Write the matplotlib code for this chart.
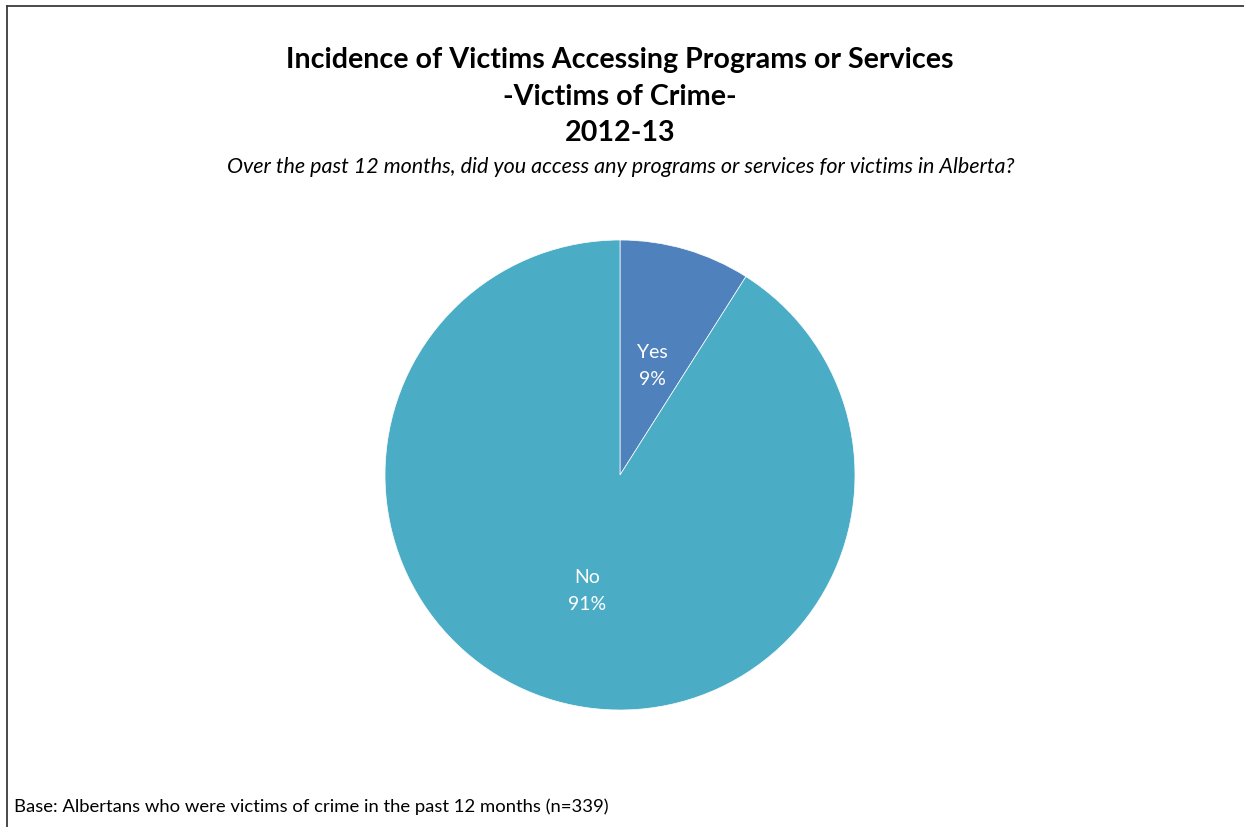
import matplotlib
matplotlib.use("Agg")
import matplotlib.pyplot as plt
from matplotlib.lines import Line2D
from matplotlib.transforms import ScaledTranslation

categories = ["Yes", "No"]
shares = [9, 91]
colors = ["#4F81BD", "#4BACC6"]

title_lines = ["Incidence of Victims Accessing Programs or Services",
               "-Victims of Crime-",
               "2012-13"]
question = "Over the past 12 months, did you access any programs or services for victims in Alberta?"
base_note = "Base: Albertans who were victims of crime in the past 12 months (n=339)"

W, H = 1244, 827
plt.rcParams["font.family"] = ["Lato", "DejaVu Sans"]
fig = plt.figure(figsize=(W / 100, H / 100), dpi=100)
fig.patch.set_facecolor("white")

# chart frame (left and top edges)
fig.add_artist(Line2D([7.5 / W, 7.5 / W], [0, 1 - 5.5 / H], transform=fig.transFigure,
                      color="#3a3a3a", lw=1.3))
fig.add_artist(Line2D([7.5 / W, 1], [1 - 5.5 / H, 1 - 5.5 / H], transform=fig.transFigure,
                      color="#3a3a3a", lw=1.3))

cx, cy, r = 620, 475, 235
ax = fig.add_axes([(cx - r) / W, (H - cy - r) / H, 2 * r / W, 2 * r / H])
labels = [f"{c}\n{v}%" for c, v in zip(categories, shares)]
wedges, texts = ax.pie(shares, colors=colors, startangle=90, counterclock=False,
                       labels=labels, labeldistance=0.5,
                       wedgeprops=dict(edgecolor="white", linewidth=0.5),
                       textprops=dict(color="white", fontsize=14, linespacing=1.7))
nudge = ScaledTranslation(0, -0.035, fig.dpi_scale_trans)
for t in texts:
    t.set_ha("center")
    t.set_va("center")
    t.set_transform(t.get_transform() + nudge)
ax.set_xlim(-1, 1)
ax.set_ylim(-1, 1)
ax.set_aspect("equal")
ax.axis("off")

for y, line in zip([60, 97, 133], title_lines):
    fig.text(620 / W, 1 - y / H, line, ha="center", va="center",
             fontsize=20.6, fontweight="bold", color="black")
fig.text(621 / W, 1 - 167 / H, question, ha="center", va="center",
         fontsize=15.5, style="italic", color="black")
fig.text(14 / W, 1 - 807 / H, base_note, ha="left", va="center",
         fontsize=13.3, color="black")

fig.savefig("out.png", dpi=100, facecolor="white")
